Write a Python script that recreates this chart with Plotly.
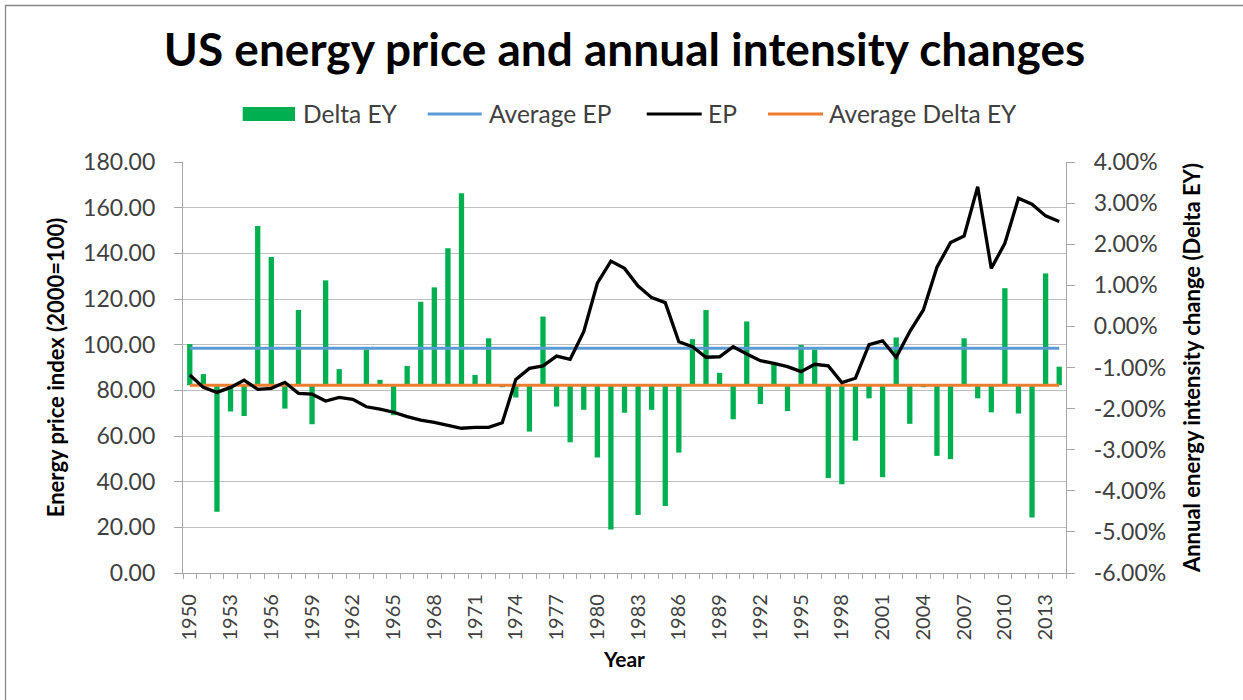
import plotly.graph_objects as go

# ---------------- data ----------------
years = list(range(1950, 2015))

# Annual energy intensity change, percent (right axis)
delta_ey = [
    -0.43, -1.16, -4.51, -2.07, -2.18, 2.44, 1.69, -2.00, 0.40, -2.38,   # 1950-1959
    1.12, -1.04, -1.41, -0.56, -1.30, -2.16, -0.96, 0.60, 0.95, 1.90,    # 1960-1969
    3.24, -1.18, -0.29, -1.48, -1.73, -2.56, 0.24, -1.95, -2.82, -2.03,  # 1970-1979
    -3.19, -4.94, -2.10, -4.59, -2.03, -4.37, -3.07, -0.31, 0.40, -1.13, # 1980-1989
    -2.26, 0.12, -1.89, -0.90, -2.06, -0.45, -0.56, -3.69, -3.84, -2.78, # 1990-1999
    -1.75, -3.67, -0.27, -2.37, -1.48, -3.15, -3.23, -0.29, -1.75, -2.09,# 2000-2009
    0.93, -2.12, -4.65, 1.29, -0.98,                                     # 2010-2014
]

# Energy price index, 2000 = 100 (left axis)
ep = [
    86.7, 81.3, 79.1, 81.3, 84.5, 80.4, 80.9, 83.5, 78.7, 78.3,          # 1950-1959
    75.3, 76.9, 76.1, 72.8, 71.8, 70.4, 68.5, 67.0, 66.0, 64.8,          # 1960-1969
    63.4, 63.8, 63.8, 65.8, 84.8, 89.6, 90.7, 95.0, 93.6, 105.7,         # 1970-1979
    126.9, 136.6, 133.4, 125.7, 120.6, 118.4, 101.3, 99.1, 94.5, 94.7,   # 1980-1989
    99.1, 95.9, 93.0, 91.8, 90.4, 88.2, 91.4, 90.7, 83.4, 85.3,          # 1990-1999
    100.0, 101.7, 94.5, 105.7, 115.2, 133.9, 144.7, 147.6, 169.2, 133.4, # 2000-2009
    144.4, 164.1, 161.5, 156.4, 153.9,                                   # 2010-2014
]

avg_ep = 98.4           # "Average EP" series value
avg_delta_ey = -1.43    # "Average Delta EY" series value (also the bars' origin)

tick_years = list(range(1950, 2015, 3))
tick_labels = [str(y) for y in tick_years]

left_ticks = [0, 20, 40, 60, 80, 100, 120, 140, 160, 180]
left_labels = [f"{v:.2f}" for v in left_ticks]
right_ticks = [-6, -5, -4, -3, -2, -1, 0, 1, 2, 3, 4]
right_labels = [f"{v:.2f}%" for v in right_ticks]

legend_names = ["Delta EY", "Average EP", "EP", "Average Delta EY"]

# ---------------- styles ----------------
GREEN = "#00B050"
BLUE = "#5B9BD5"
ORANGE = "#ED7D31"
BLACK = "#000000"
AXIS = "#a6a6a6"
GRID = "#bfbfbf"
TXT = "#404040"
FONT = "Lato"

W, H = 1243, 700
L, R, T, B = 183, 177, 162, 127
pw, ph = W - L - R, H - T - B


def px_x(px):
    return (px - L) / pw


def px_y(py):
    return (H - B - py) / ph


fig = go.Figure()

fig.add_trace(go.Bar(
    name=legend_names[0], x=years,
    y=[v - avg_delta_ey for v in delta_ey], base=avg_delta_ey,
    width=0.39, marker=dict(color=GREEN, line=dict(width=0)),
    customdata=delta_ey, hovertemplate="%{x}: %{customdata:.2f}%<extra>Delta EY</extra>",
    yaxis="y", showlegend=False,
))
fig.add_trace(go.Scatter(
    name=legend_names[1], x=years, y=[avg_ep] * len(years), mode="lines",
    line=dict(color=BLUE, width=3), yaxis="y2", showlegend=False,
))
fig.add_trace(go.Scatter(
    name=legend_names[2], x=years, y=ep, mode="lines",
    line=dict(color=BLACK, width=3.3), yaxis="y2", showlegend=False,
))
fig.add_trace(go.Scatter(
    name=legend_names[3], x=years, y=[avg_delta_ey] * len(years), mode="lines",
    line=dict(color=ORANGE, width=3), yaxis="y", showlegend=False,
))

# ---- legend (drawn as symbols + text above the plot, Excel style) ----
LEG_Y = 114
leg_sym = [(242.7, 295.0), (427.7, 481.7), (646.7, 701.7), (768.0, 823.0)]
leg_txt_x = [302, 488, 707, 828]
leg_col = [GREEN, BLUE, BLACK, ORANGE]

shapes = []
annotations = []
for i, name in enumerate(legend_names):
    x0, x1 = leg_sym[i]
    if i == 0:
        shapes.append(dict(type="rect", xref="paper", yref="paper",
                           x0=px_x(x0), x1=px_x(x1), y0=px_y(LEG_Y + 7), y1=px_y(LEG_Y - 7),
                           line=dict(width=0), fillcolor=leg_col[i], layer="above"))
    else:
        shapes.append(dict(type="line", xref="paper", yref="paper",
                           x0=px_x(x0), x1=px_x(x1), y0=px_y(LEG_Y), y1=px_y(LEG_Y),
                           line=dict(color=leg_col[i], width=3), layer="above"))
    annotations.append(dict(text=name, xref="paper", yref="paper",
                            x=px_x(leg_txt_x[i]), y=px_y(LEG_Y),
                            xanchor="left", yanchor="middle", showarrow=False,
                            borderpad=0,
                            font=dict(family=FONT, size=24.5, color=TXT)))

# outer chart border
shapes.append(dict(
    type="rect", xref="paper", yref="paper",
    x0=px_x(5.5), x1=px_x(W + 20), y0=px_y(H + 20), y1=px_y(5.5),
    line=dict(color="#878787", width=1.3), fillcolor="rgba(0,0,0,0)", layer="below",
))

fig.update_layout(
    width=W, height=H,
    margin=dict(l=L, r=R, t=T, b=B, pad=0),
    paper_bgcolor="white", plot_bgcolor="white",
    font=dict(family=FONT, color=TXT, size=20),
    showlegend=False,
    title=dict(
        text="<b>US energy price and annual intensity changes</b>",
        x=0.5, xref="paper", xanchor="center",
        y=1 - 50 / H, yref="container", yanchor="middle",
        font=dict(family=FONT, size=46, color="#000000"),
    ),
    xaxis=dict(
        range=[1949.5, 2014.5], tickmode="array",
        tickvals=tick_years, ticktext=tick_labels, tickangle=-90,
        ticks="", showline=True, linecolor=AXIS, linewidth=1.3,
        showgrid=False, zeroline=False,
        tickfont=dict(family=FONT, size=20, color=TXT),
        ticklabelstandoff=12,
        minor=dict(ticks="outside", tick0=1949.5, dtick=1, ticklen=5,
                   tickcolor=AXIS, tickwidth=1.3, showgrid=False),
        title=dict(text="<b>Year</b>", font=dict(family=FONT, size=21, color="#000000"),
                   standoff=12),
    ),
    yaxis=dict(
        side="right", range=[-6, 4], tickmode="array",
        tickvals=right_ticks, ticktext=right_labels,
        showgrid=False, zeroline=False, showline=True, linecolor=AXIS, linewidth=1.3,
        ticks="outside", ticklen=8, tickcolor=AXIS, tickwidth=1.3,
        ticklabelstandoff=14,
        tickfont=dict(family=FONT, size=23, color=TXT),
        title=dict(text="<b>Annual energy intensity change (Delta EY)</b>",
                   font=dict(family=FONT, size=22, color="#000000"), standoff=19),
    ),
    yaxis2=dict(
        overlaying="y", side="left", range=[0, 180], tickmode="array",
        tickvals=left_ticks, ticktext=left_labels,
        showgrid=True, gridcolor=GRID, gridwidth=1.3, zeroline=False,
        showline=True, linecolor=AXIS, linewidth=1.3,
        ticks="outside", ticklen=8, tickcolor=AXIS, tickwidth=1.3,
        ticklabelstandoff=14,
        tickfont=dict(family=FONT, size=23, color=TXT),
        title=dict(text="<b>Energy price index (2000=100)</b>",
                   font=dict(family=FONT, size=22, color="#000000"), standoff=12),
    ),
    shapes=shapes,
    annotations=annotations,
)

fig.write_html("out.html", config={"displayModeBar": False},
               post_script="document.body.style.margin='0px';")
